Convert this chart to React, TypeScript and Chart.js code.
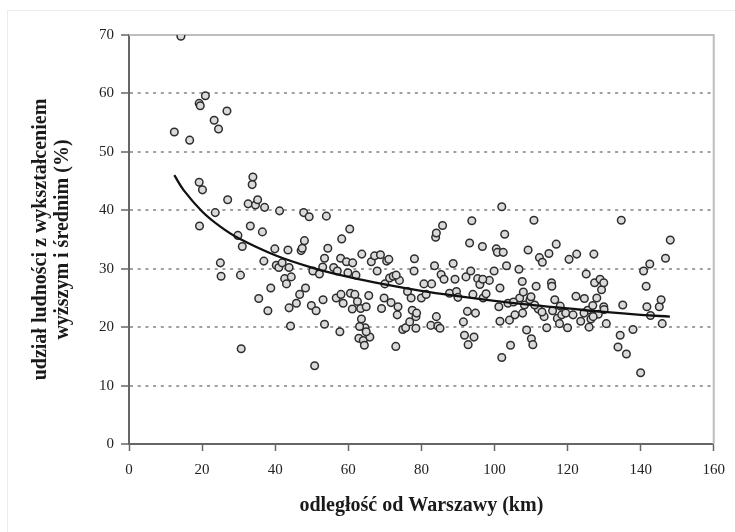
import React, { useEffect, useRef } from "react";
import { Chart, registerables } from "chart.js";

Chart.register(...registerables);

// distance from Warsaw (km)
const distanceKm = [
  14.2, 12.4, 16.6, 19.2, 19.5, 20.9, 23.3, 24.5, 26.8, 19.2, 20.1, 19.3, 23.6, 25.0, 25.2, 27.0,
  29.8, 31.0, 30.5, 30.7, 32.6, 33.9, 33.7, 33.2, 34.6, 35.2, 35.5, 36.5, 37.1, 36.9, 38.0, 38.8,
  39.9, 40.3, 41.0, 41.2, 41.9, 42.6, 43.1, 43.5, 43.8, 44.4, 43.8, 44.2, 45.8, 46.7, 47.1, 47.4,
  47.8, 48.0, 48.3, 49.3, 50.3, 49.9, 51.2, 50.8, 52.1, 53.1, 53.5, 53.5, 54.0, 54.4, 56.0, 56.7,
  57.0, 57.7, 58.0, 58.2, 57.9, 58.6, 59.5, 59.9, 60.4, 60.6, 61.1, 61.2, 61.8, 62.1, 62.5, 62.9,
  63.4, 63.6, 63.7, 64.1, 64.4, 64.6, 64.9, 65.6, 65.9, 66.3, 67.2, 67.9, 68.8, 69.1, 69.8, 70.0,
  70.5, 71.1, 71.3, 71.7, 72.3, 73.0, 73.4, 73.6, 74.0, 74.9, 75.7, 76.2, 76.8, 77.2, 77.5, 78.0,
  78.1, 78.5, 78.5, 78.7, 80.0, 80.7, 81.3, 82.6, 82.8, 83.6, 83.9, 84.1, 84.1, 84.5, 85.1, 85.4,
  85.8, 86.2, 87.7, 88.7, 89.2, 89.6, 90.0, 91.5, 91.8, 92.2, 92.6, 92.8, 93.2, 93.5, 93.8, 94.1,
  94.4, 94.8, 95.4, 96.0, 96.7, 96.9, 97.7, 98.6, 99.9, 100.5, 100.8, 101.2, 101.5, 101.5, 102.0, 102.0,
  102.4, 102.8, 103.3, 103.7, 104.1, 104.4, 105.6, 106.7, 106.9, 107.6, 107.9, 108.2, 108.8, 109.2, 109.7, 110.1,
  110.5, 110.8, 111.4, 112.0, 112.3, 113.1, 113.6, 114.3, 114.9, 115.6, 115.9, 116.5, 116.9, 117.2, 117.8, 118.4,
  119.5, 120.0, 120.4, 122.3, 122.5, 123.6, 124.6, 125.1, 125.5, 125.9, 126.4, 126.9, 127.2, 127.4, 128.0, 128.4,
  128.9, 129.3, 129.9, 129.9, 130.6, 133.8, 134.4, 134.7, 135.1, 136.1, 137.9, 140.0, 140.8, 141.5, 141.7, 142.5,
  142.7, 145.1, 145.6, 145.9, 146.8, 148.1, 53.0, 73.1, 115.7, 96.8, 110.0, 107.7, 63.1, 64.9, 105.2, 111.0,
  113.0, 118.0, 121.5, 124.5, 127.0, 130.0
];

// share of population with higher and secondary education (%)
const sharePct = [
  69.8, 53.4, 52.0, 58.3, 57.9, 59.6, 55.4, 53.9, 57.0, 44.8, 43.5, 37.3, 39.6, 31.0, 28.7, 41.8,
  35.7, 33.8, 28.9, 16.3, 41.1, 45.7, 44.4, 37.3, 40.9, 41.8, 24.9, 36.3, 40.5, 31.3, 22.8, 26.7,
  33.4, 30.6, 30.2, 39.9, 31.0, 28.3, 27.4, 33.2, 30.2, 28.6, 23.3, 20.2, 24.1, 25.6, 33.1, 33.5,
  39.6, 34.8, 26.7, 38.9, 29.6, 23.7, 22.8, 13.4, 29.1, 24.7, 20.5, 31.8, 39.0, 33.5, 30.2, 25.0,
  29.6, 19.2, 25.6, 35.1, 31.8, 24.1, 31.2, 29.3, 36.8, 25.8, 23.1, 31.0, 25.6, 28.9, 24.4, 18.1,
  23.2, 21.4, 32.5, 17.7, 16.9, 19.9, 23.5, 25.4, 18.3, 31.2, 32.2, 29.6, 32.4, 23.2, 25.0, 27.4,
  31.3, 31.6, 28.4, 24.2, 28.7, 16.7, 22.1, 23.5, 28.0, 19.6, 19.9, 26.1, 20.9, 25.0, 22.9, 29.6,
  31.7, 21.8, 19.8, 22.4, 25.0, 27.4, 25.6, 20.3, 27.4, 30.5, 35.4, 36.1, 21.8, 20.2, 19.8, 29.0,
  37.4, 28.2, 25.8, 30.9, 28.2, 26.1, 25.1, 20.9, 18.6, 28.6, 22.7, 17.0, 34.4, 29.6, 38.2, 25.6,
  18.3, 22.4, 28.3, 27.3, 33.8, 25.0, 25.7, 28.0, 29.6, 33.4, 32.8, 23.5, 26.7, 21.0, 40.6, 14.8,
  32.8, 35.9, 30.5, 24.1, 21.2, 16.9, 22.1, 29.9, 25.0, 27.8, 26.0, 23.8, 19.5, 33.2, 24.7, 18.0,
  17.0, 38.3, 27.0, 23.1, 31.9, 31.1, 21.8, 19.9, 32.6, 27.6, 22.8, 24.7, 34.2, 21.5, 20.6, 22.1,
  22.4, 19.9, 31.6, 25.3, 32.5, 21.0, 24.9, 29.1, 22.9, 20.0, 21.4, 23.7, 32.5, 27.6, 25.0, 22.2,
  28.2, 26.4, 27.6, 23.5, 20.6, 16.6, 18.6, 38.3, 23.8, 15.4, 19.6, 12.2, 29.6, 27.0, 23.5, 30.8,
  22.0, 23.5, 24.7, 20.6, 31.8, 34.9, 30.3, 28.9, 27.0, 28.2, 25.2, 22.4, 20.1, 19.2, 24.3, 23.8,
  22.6, 23.6, 22.1, 22.4, 21.8, 23.0
];

// trend curve
const trendX = [12.4, 15, 20, 25, 30, 40, 50, 60, 70, 80, 90, 100, 110, 120, 130, 140, 148];
const trendY = [46.0, 43.4, 39.8, 37.2, 35.2, 32.3, 30.2, 28.6, 27.3, 26.2, 25.3, 24.5, 23.8, 23.2, 22.6, 22.1, 21.8];

const xTickValues = [0, 20, 40, 60, 80, 100, 120, 140, 160];
const yTickValues = [0, 10, 20, 30, 40, 50, 60, 70];

const xTitle = "odległość od Warszawy (km)";
const yTitle = ["udział ludności z wykształceniem", "wyższym i średnim (%)"];

const framePlugin = {
  id: "plotFrame",
  beforeDatasetsDraw(chart: any) {
    const { ctx, chartArea } = chart;
    ctx.save();
    ctx.strokeStyle = "#bdbdbd";
    ctx.lineWidth = 2;
    ctx.beginPath();
    ctx.moveTo(chartArea.left, chartArea.top);
    ctx.lineTo(chartArea.right, chartArea.top);
    ctx.lineTo(chartArea.right, chartArea.bottom);
    ctx.stroke();
    ctx.restore();
  },
};

export default function App() {
  const ref = useRef<HTMLCanvasElement | null>(null);

  useEffect(() => {
    if (!ref.current) return;
    const points = distanceKm.map((x, i) => ({ x, y: sharePct[i] }));
    const trend = trendX.map((x, i) => ({ x, y: trendY[i] }));
    const serif = "'Liberation Serif', 'Times New Roman', serif";

    const chart = new Chart(ref.current, {
      type: "scatter",
      data: {
        datasets: [
          {
            label: "trend",
            data: trend,
            showLine: true,
            borderColor: "#111",
            borderWidth: 2.3,
            pointRadius: 0,
            tension: 0.4,
            fill: false,
            order: 0,
          } as any,
          {
            label: "gminy",
            data: points,
            pointRadius: 3.8,
            pointBorderWidth: 1.5,
            borderColor: "#2e2e2e",
            backgroundColor: "#dadada",
            order: 1,
          } as any,
        ],
      },
      options: {
        animation: false,
        responsive: false,
        maintainAspectRatio: false,
        layout: { padding: { left: 0, top: 35, right: 20, bottom: 0 } },
        plugins: {
          legend: { display: false },
          tooltip: { enabled: false },
        },
        scales: {
          x: {
            type: "linear",
            min: 0,
            max: 160,
            afterBuildTicks: (scale: any) => {
              scale.ticks = xTickValues.map((v) => ({ value: v }));
            },
            afterFit: (scale: any) => {
              scale.height = 88;
            },
            ticks: {
              color: "#222",
              padding: 10,
              font: { family: serif, size: 15 },
              maxRotation: 0,
            },
            grid: {
              drawOnChartArea: false,
              drawTicks: true,
              tickLength: 7,
              tickColor: "#666",
              tickWidth: 1.5,
            },
            border: { display: true, color: "#666", width: 2 },
            title: {
              display: true,
              text: xTitle,
              color: "#1a1a1a",
              font: { family: serif, size: 20, weight: "bold", lineHeight: 1.1 },
              padding: { top: 0, bottom: 15 },
            },
          },
          y: {
            type: "linear",
            min: 0,
            max: 70,
            afterBuildTicks: (scale: any) => {
              scale.ticks = yTickValues.map((v) => ({ value: v }));
            },
            afterFit: (scale: any) => {
              scale.width = 129;
            },
            ticks: {
              color: "#222",
              padding: 7,
              font: { family: serif, size: 15 },
            },
            grid: {
              drawOnChartArea: true,
              drawTicks: true,
              tickLength: 8,
              lineWidth: 2,
              color: (c: any) =>
                c.tick && (c.tick.value === 0 || c.tick.value === 70) ? "rgba(0,0,0,0)" : "#a0a0a0",
              tickColor: "#666",
              tickWidth: 1.5,
              tickBorderDash: [],
            },
            border: { display: true, color: "#666", width: 2, dash: [3, 4.7] },
            title: {
              display: true,
              text: yTitle,
              color: "#1a1a1a",
              font: { family: serif, size: 20, weight: "bold", lineHeight: 1.1 },
              padding: { top: 30, bottom: 0 },
            },
          },
        },
      },
      plugins: [framePlugin],
    });

    return () => chart.destroy();
  }, []);

  return (
    <div style={{ position: "absolute", left: 0, top: 0, width: 735, height: 532, background: "#fff" }}>
      <div
        style={{
          position: "absolute",
          left: 7,
          top: 10,
          width: 728,
          height: 522,
          borderLeft: "1px solid #ececec",
          borderTop: "1px solid #ececec",
        }}
      />
      <canvas ref={ref} width={735} height={532} style={{ position: "absolute", left: 0, top: 0 }} />
    </div>
  );
}
